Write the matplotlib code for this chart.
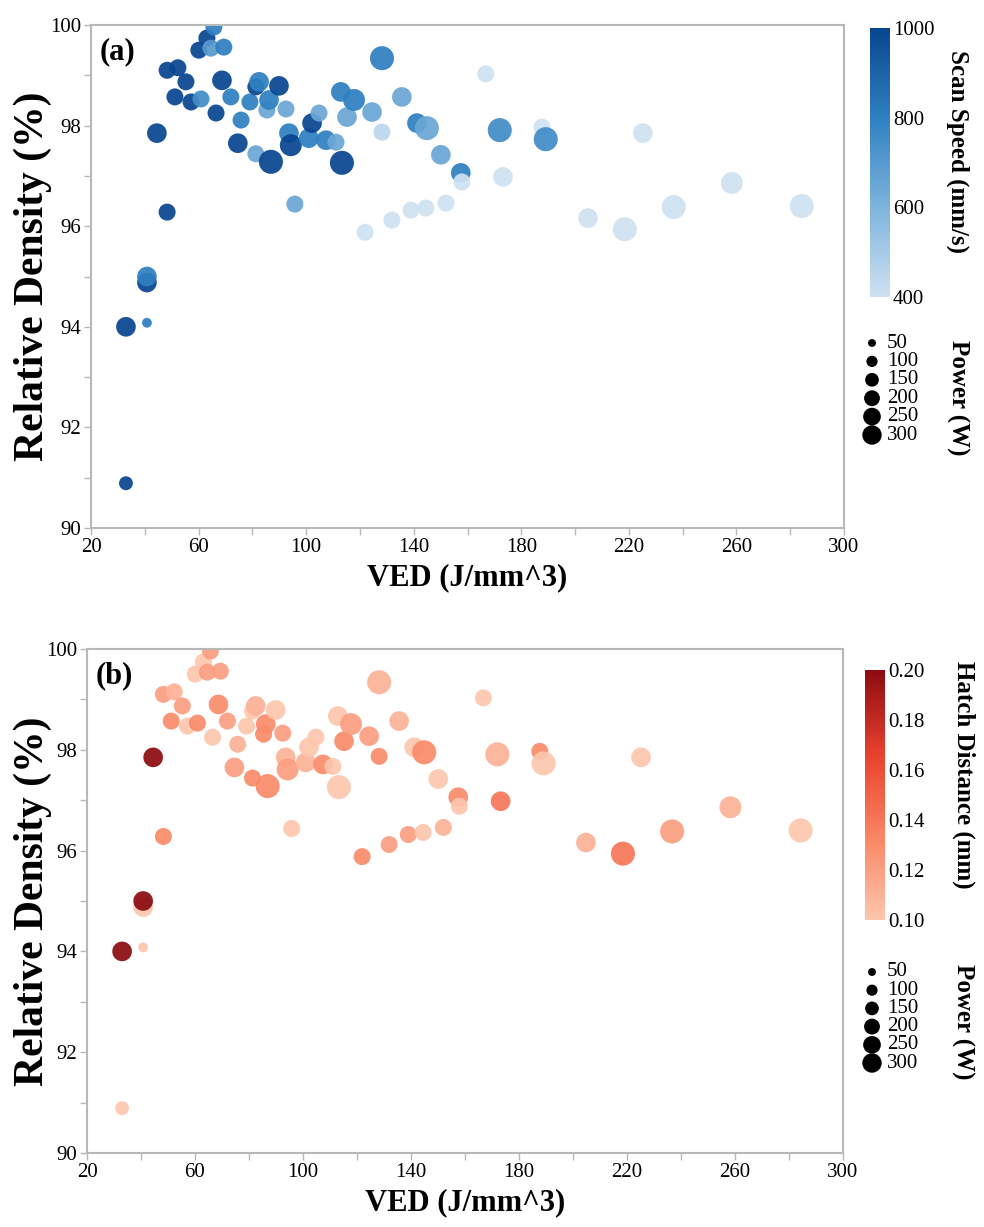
import numpy as np
import matplotlib
matplotlib.use('Agg')
import matplotlib.pyplot as plt
from matplotlib.colors import LinearSegmentedColormap

plt.rcParams['font.family'] = ['Liberation Serif', 'DejaVu Serif']

# measured builds: VED, relative density, scan speed, hatch distance, laser power
ved = [33.0, 33.0, 40.8, 40.8, 40.8, 44.5, 48.3, 48.3, 52.3, 51.2,
       55.3, 57.2, 60.9, 60.1, 63.1, 64.6, 65.7, 69.4, 66.5, 68.7,
       72.0, 75.8, 74.6, 79.1, 81.3, 81.3, 82.5, 85.4, 86.2, 86.9,
       89.9, 92.5, 93.6, 94.3, 95.8, 101.0, 102.2, 104.8, 107.4, 111.1,
       113.3, 112.9, 115.2, 117.8, 121.9, 124.5, 128.2, 128.2, 131.9, 135.6,
       139.0, 141.2, 144.5, 144.9, 150.1, 152.0, 157.5, 157.9, 166.8, 172.0,
       173.2, 187.7, 189.1, 204.8, 218.5, 225.2, 236.7, 258.3, 284.3]
density = [90.89, 94.00, 94.08, 94.88, 95.00, 97.85, 96.28, 99.10, 99.15, 98.57,
           98.87, 98.47, 98.53, 99.50, 99.74, 99.54, 99.96, 99.56, 98.25, 98.90,
           98.57, 98.11, 97.65, 98.47, 97.44, 98.77, 98.87, 98.31, 98.51, 97.28,
           98.79, 98.33, 97.85, 97.61, 96.44, 97.75, 98.05, 98.25, 97.71, 97.67,
           97.26, 98.67, 98.17, 98.51, 95.88, 98.27, 97.87, 99.34, 96.12, 98.57,
           96.32, 98.05, 96.36, 97.95, 97.42, 96.46, 97.06, 96.88, 99.03, 97.91,
           96.98, 97.97, 97.73, 96.16, 95.94, 97.85, 96.38, 96.86, 96.40]
scan_speed = [1000, 1000, 800, 1000, 800, 1000, 1000, 1000, 1000, 1000,
              1000, 1000, 750, 1000, 1000, 700, 800, 800, 1000, 1000,
              800, 800, 1000, 800, 650, 1000, 800, 650, 800, 1000,
              1000, 650, 800, 1000, 650, 800, 1000, 650, 800, 650,
              1000, 800, 650, 800, 400, 650, 450, 800, 400, 650,
              400, 800, 400, 650, 650, 400, 800, 400, 400, 750,
              400, 400, 750, 400, 400, 400, 400, 400, 400]
hatch = [0.10, 0.20, 0.10, 0.10, 0.20, 0.20, 0.13, 0.12, 0.11, 0.13,
         0.12, 0.10, 0.13, 0.10, 0.10, 0.12, 0.12, 0.12, 0.10, 0.13,
         0.12, 0.11, 0.12, 0.10, 0.13, 0.10, 0.11, 0.13, 0.13, 0.13,
         0.10, 0.12, 0.11, 0.12, 0.10, 0.11, 0.10, 0.10, 0.13, 0.10,
         0.10, 0.10, 0.13, 0.12, 0.13, 0.12, 0.13, 0.11, 0.12, 0.11,
         0.12, 0.10, 0.10, 0.13, 0.10, 0.11, 0.13, 0.10, 0.10, 0.11,
         0.14, 0.13, 0.10, 0.11, 0.14, 0.10, 0.12, 0.11, 0.10]
power = [100, 200, 50, 200, 200, 200, 150, 150, 150, 150,
         150, 150, 150, 150, 150, 150, 150, 150, 150, 200,
         150, 150, 200, 150, 150, 150, 200, 150, 200, 300,
         200, 150, 200, 250, 150, 200, 200, 150, 200, 150,
         300, 200, 200, 250, 150, 200, 150, 300, 150, 200,
         150, 200, 150, 300, 200, 150, 200, 150, 150, 300,
         200, 150, 300, 200, 300, 200, 300, 250, 300]

legend_power = [50, 100, 150, 200, 250, 300]
speed_ticks = [400, 600, 800, 1000]
hatch_ticks = [0.10, 0.12, 0.14, 0.16, 0.18, 0.20]

blues = LinearSegmentedColormap.from_list('scan', ['#cfe1f2', '#7db4dc', '#2f80c1', '#08468f'])
reds = LinearSegmentedColormap.from_list('hatch', ['#fdc6ae', '#f98563', '#e8402e', '#8c0b10'])

W, H = 984, 1227
fig = plt.figure(figsize=(W / 100, H / 100), dpi=100)
GREY = '#b8b8b8'


def box(l, t, r, b):
    # pixel box -> figure fraction
    return [l / W, 1 - b / H, (r - l) / W, (b - t) / H]


def panel(rect, cb_rect, values, cmap, vmin, vmax, cticks, cfmt, ctitle, ctitle_xy, tag):
    ax = fig.add_axes(box(*rect))
    sc = ax.scatter(ved, density, s=np.array(power) * 1.0, c=values, cmap=cmap,
                    vmin=vmin, vmax=vmax, alpha=0.93, linewidths=0)
    ax.set_xlim(20, 300)
    ax.set_ylim(90, 100)
    ax.set_xticks(range(20, 301, 40))
    ax.set_xticks(range(40, 300, 40), minor=True)
    ax.set_yticks(range(90, 101, 2))
    ax.set_yticks(range(91, 100, 2), minor=True)
    for sp in ax.spines.values():
        sp.set_color(GREY)
        sp.set_linewidth(1.5)
    ax.tick_params(which='both', direction='out', length=5, width=1, color=GREY,
                   labelsize=15, pad=2)
    ax.set_xlabel('VED (J/mm^3)', fontsize=22, fontweight='bold', labelpad=5)
    ax.set_ylabel('Relative Density (%)', fontsize=30, fontweight='bold')
    ax.yaxis.set_label_coords((52 - rect[0]) / (rect[2] - rect[0]), 0.5)
    ax.text(0.012, 0.975, tag, transform=ax.transAxes, fontsize=22, fontweight='bold',
            va='top', ha='left')

    cax = fig.add_axes(box(*cb_rect))
    cb = fig.colorbar(sc, cax=cax, ticks=cticks, format=cfmt)
    cb.outline.set_visible(False)
    cb.solids.set_alpha(1)
    cax.tick_params(length=0, labelsize=15, pad=2)
    fig.text(ctitle_xy[0] / W, 1 - ctitle_xy[1] / H, ctitle, rotation=270, fontsize=18,
             fontweight='bold', ha='center', va='center')
    return ax


def power_legend(x0, y50, y300, title_xy):
    step = (y300 - y50) / 250
    pad = 11
    lax = fig.add_axes(box(x0, y50 - pad, x0 + 60, y300 + pad))
    lax.scatter(np.zeros(len(legend_power)), legend_power,
                s=np.array(legend_power) * 0.65, color='black', linewidths=0)
    lax.set_xlim(-0.8, 3.2)
    lax.set_ylim(300 + pad / step, 50 - pad / step)
    lax.axis('off')
    for p in legend_power:
        lax.text(0.45, p, str(p), transform=lax.get_yaxis_transform(), fontsize=15,
                 va='center', ha='left')
    fig.text(title_xy[0] / W, 1 - title_xy[1] / H, 'Power (W)', rotation=270, fontsize=18,
             fontweight='bold', ha='center', va='center')


panel((91, 25, 844, 528), (870, 28, 890, 297), scan_speed, blues, 400, 1000,
      speed_ticks, '%d', 'Scan Speed (mm/s)', (958, 152), '(a)')
power_legend(860, 343, 435, (958, 398))

panel((87, 649, 843, 1153), (865, 670, 885, 920), hatch, reds, 0.10, 0.20,
      hatch_ticks, '%.2f', 'Hatch Distance (mm)', (964, 775), '(b)')
power_legend(860, 972, 1063, (963, 1022))

fig.savefig('out.png', dpi=100)
